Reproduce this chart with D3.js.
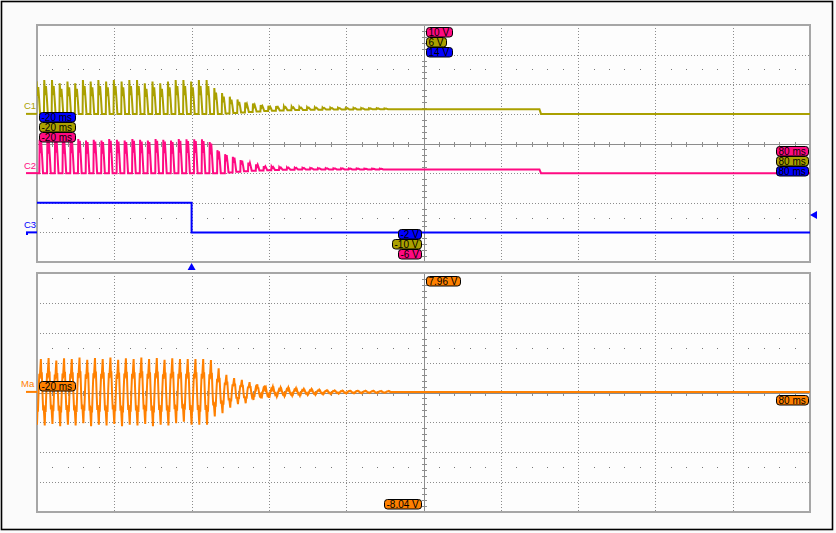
<!DOCTYPE html>
<html><head><meta charset="utf-8">
<script src="https://cdn.jsdelivr.net/npm/d3@7"></script>
<style>html,body{margin:0;padding:0;background:#fff}svg{display:block}</style>
</head><body><svg id="c" width="836" height="533"></svg>
<script>
// ---------------- data ----------------
const timeDomain = [-20, 80];           // ms, 10 ms/div
const c1Range = [-10, 6];               // V, 2 V/div
const c2Range = [-6, 10];
const c3Range = [-2, 14];
const maRange = [-8.04, 7.96];

// C1: one entry per 1 ms cycle, cycles start at -20.1 ms
const c1CycleStart = -20.1;
const c1Peak = [2.2, 2.29,2.29,2.07,2.18,2.07,2.29,2.18,2.29,2.18,2.29,2.18,2.29,2.29,2.07,2.18,2.07,2.18,2.29,2.29,2.18,2.29,2.29,
  1.75,1.41,1.16,0.97,0.77,0.70,0.60,0.55,0.52,0.50,0.48,0.46,0.45,0.44,0.43,0.42,0.41,0.40,0.40,0.39,0.38,0.38,0.37];
const c1Base = [0,0,0,0,0,0,0,0,0,0,0,0,0,0,0,0,0,0,0,0,0,0,0,0,
  0.02,0.06,0.10,0.13,0.16,0.19,0.21,0.23,0.25,0.26,0.27,0.28,0.28,0.29,0.29,0.30,0.30,0.30,0.30,0.31,0.31,0.31];
const c1TailTimes = [25.9, 45, 45.2, 80];
const c1TailVolts = [0.31, 0.31, 0, 0];

// C2
const c2CycleStart = -20.7;
const c2Peak = [2.2, 2.25,2.2,2.3,2.2,2.25,2.3,2.2,2.25,2.2,2.3,2.25,2.2,2.3,2.25,2.2,2.3,2.25,2.2,2.3,2.28,2.28,2.28,
  2.1,1.55,1.28,1.10,0.88,0.72,0.59,0.47,0.43,0.39,0.38,0.36,0.35,0.34,0.33,0.33,0.32,0.32,0.31,0.31,0.30,0.30,0.30];
const c2Base = [0,0,0,0,0,0,0,0,0,0,0,0,0,0,0,0,0,0,0,0,0,0,0,0,0,
  0.05,0.09,0.13,0.16,0.18,0.20,0.21,0.22,0.23,0.24,0.24,0.25,0.25,0.25,0.25,0.25,0.25,0.25,0.25,0.25,0.25];
const c2TailTimes = [25.3, 45, 45.2, 80];
const c2TailVolts = [0.25, 0.25, 0, 0];

// C3 step
const c3Times = [-20, 0, 0, 80];
const c3Volts = [2.0, 2.0, 0, 0];
const c3TriggerLevel = 1.18;

// Ma (math) : cycles start at -20 ms (trough), peak mid-cycle
const maCycleStart = -20;
const maTop = [2.2,2.27,2.1,2.25,2.2,2.3,2.15,2.27,2.2,2.3,2.15,2.25,2.2,2.3,2.2,2.27,2.15,2.25,2.2,2.2,2.2,2.2,
  2.14,1.58,1.14,0.92,0.80,0.65,0.51,0.42,0.35,0.29,0.29,0.25,0.20,0.19,0.15,0.11,0.10,0.09,0.08,0.08,0.07,0.07,0.06,0.06];
const maBot = [2.2,2.25,2.15,2.3,2.2,2.25,2.1,2.3,2.2,2.25,2.15,2.3,2.2,2.25,2.15,2.3,2.2,2.25,2.1,2.0,2.2,2.2,2.2,
  1.65,1.43,1.05,0.82,0.76,0.54,0.42,0.38,0.31,0.28,0.25,0.25,0.20,0.19,0.16,0.14,0.12,0.10,0.09,0.08,0.07,0.07,0.06,0];
const maTailTimes = [26, 80];
const maTailVolts = [0, 0];

// one-cycle waveform shapes: [phase, relative amplitude]
const c1Shape = [[0,0],[0.04,1],[0.14,0.55],[0.26,0.82],[0.38,0.45],[0.5,0],[1,0]];
const c2Shape = [[0,0],[0.04,1],[0.13,0.6],[0.24,0.95],[0.36,0.5],[0.48,0],[1,0]];
const maShape = [[0,-1],[0.07,-0.45],[0.12,-0.6],[0.22,0.1],[0.3,0.55],[0.36,0.4],[0.5,1],[0.57,0.45],[0.62,0.6],[0.72,-0.1],[0.8,-0.55],[0.86,-0.4],[1,-1]];

// labels
const topRefLabels = ["10 V", "6 V", "14 V"];
const bottomRefLabels = ["-2 V", "-10 V", "-6 V"];
const startLabel = "-20 ms", endLabel = "80 ms";
const maTopLabel = "7.96 V", maBottomLabel = "-8.04 V";

// ---------------- drawing ----------------
const COL = {c1:'#aaa000', c2:'#ff0a82', c3:'#0000ff', ma:'#ff8000', grid:'#8c8c8c', border:'#a6a6a6'};
const X0 = 37, X1 = 810;
const P1 = {y0:25, y1:262}, P2 = {y0:273, y1:512};
const svg = d3.select('#c');
svg.append('rect').attr('width',836).attr('height',533).attr('fill','#fbfbfb');
svg.append('rect').attr('x',1.5).attr('y',1.5).attr('width',831).attr('height',528)
  .attr('fill','none').attr('stroke','#000').attr('stroke-width',1.6);

const x = d3.scaleLinear().domain(timeDomain).range([X0, X1]);
const y1 = d3.scaleLinear().domain(c1Range).range([P1.y1, P1.y0]);
const y2 = d3.scaleLinear().domain(c2Range).range([P1.y1, P1.y0]);
const y3 = d3.scaleLinear().domain(c3Range).range([P1.y1, P1.y0]);
const ym = d3.scaleLinear().domain(maRange).range([P2.y1, P2.y0]);

function drawGrid(p, dotRows){
  const g = svg.append('g');
  const dx = (X1-X0)/10, dy = (p.y1-p.y0)/8;
  g.append('rect').attr('x',X0).attr('y',p.y0).attr('width',X1-X0).attr('height',p.y1-p.y0).attr('fill','#fdfdfd');
  for(let i=1;i<10;i++){
    const xx = Math.round(X0+i*dx)+0.5;
    g.append('line').attr('x1',xx).attr('x2',xx).attr('y1',p.y0).attr('y2',p.y1)
      .attr('stroke',COL.grid).attr('stroke-width',1).attr('stroke-dasharray', i===5?null:'1,2');
  }
  for(let j=1;j<8;j++){
    const yy = Math.round(p.y0+j*dy)+0.5;
    g.append('line').attr('x1',X0).attr('x2',X1).attr('y1',yy).attr('y2',yy)
      .attr('stroke',COL.grid).attr('stroke-width',1).attr('stroke-dasharray', j===4?null:'1,2');
  }
  const xc = Math.round(X0+5*dx)+0.5, yc = Math.round(p.y0+4*dy)+0.5;
  for(let m=1;m<50;m++){ if(m%5===0) continue;
    const xx = Math.round(X0+m*dx/5)+0.5;
    g.append('line').attr('x1',xx).attr('x2',xx).attr('y1',yc-2.5).attr('y2',yc+2.5).attr('stroke',COL.grid);
    dotRows.forEach(r=>{
      g.append('rect').attr('x',xx-0.5).attr('y',Math.round(p.y0+r*dy)).attr('width',1).attr('height',1).attr('fill','#777');
    });
  }
  for(let m=1;m<40;m++){ if(m%5===0) continue;
    const yy = Math.round(p.y0+m*dy/5)+0.5;
    g.append('line').attr('x1',xc-2.5).attr('x2',xc+2.5).attr('y1',yy).attr('y2',yy).attr('stroke',COL.grid);
  }
  g.append('rect').attr('x',X0).attr('y',p.y0).attr('width',X1-X0).attr('height',p.y1-p.y0)
    .attr('fill','none').attr('stroke',COL.border).attr('stroke-width',2);
}
drawGrid(P1,[1.5,6.5]);
drawGrid(P2,[2.5,6.5]);

const defs = svg.append('defs');
[['clipTop',P1],['clipBot',P2]].forEach(([id,p])=>{
  defs.append('clipPath').attr('id',id).append('rect').attr('x',X0).attr('y',p.y0).attr('width',X1-X0).attr('height',p.y1-p.y0);
});

function pulseTrain(start, peak, base, shape, tailT, tailV){
  const pts = [];
  peak.forEach((pk,k)=>{
    shape.forEach(([ph,rel])=>{ pts.push([start+k+ph, base[k]+(pk-base[k])*rel]); });
  });
  tailT.forEach((t,i)=>pts.push([t, tailV[i]]));
  return pts;
}
function maTrain(){
  const pts=[];
  maTop.forEach((tp,k)=>{
    maShape.forEach(([ph,rel])=>{
      const v = rel>=0 ? rel*tp : rel*(ph<0.5 ? maBot[k] : maBot[k+1]);
      pts.push([maCycleStart+k+ph, v]);
    });
  });
  maTailTimes.forEach((t,i)=>pts.push([t, maTailVolts[i]]));
  return pts;
}
function trace(pts, ys, color, clip, w){
  svg.append('path').attr('clip-path',`url(#${clip})`)
    .attr('d', d3.line().x(d=>x(d[0])).y(d=>ys(d[1]))(pts))
    .attr('fill','none').attr('stroke',color).attr('stroke-width',w||2).attr('stroke-linejoin','miter');
}
trace(pulseTrain(c1CycleStart,c1Peak,c1Base,c1Shape,c1TailTimes,c1TailVolts), y1, COL.c1, 'clipTop');
trace(pulseTrain(c2CycleStart,c2Peak,c2Base,c2Shape,c2TailTimes,c2TailVolts), y2, COL.c2, 'clipTop');
trace(c3Times.map((t,i)=>[t,c3Volts[i]]), y3, COL.c3, 'clipTop');
trace(maTrain(), ym, COL.ma, 'clipBot', 2);

// channel markers
const FONT = '"Liberation Sans", Arial, sans-serif';
function chMarker(name, yy, color, hook, tx){
  svg.append('text').attr('x',tx).attr('y',yy-4.5).text(name).attr('fill',color)
    .attr('font-family',FONT).attr('font-size',9.5);
  svg.append('line').attr('x1',26).attr('x2',37).attr('y1',yy).attr('y2',yy).attr('stroke',color).attr('stroke-width',2);
  if(hook) svg.append('line').attr('x1',27).attr('x2',27).attr('y1',yy).attr('y2',yy+2.5).attr('stroke',color).attr('stroke-width',2);
}
chMarker('C1', y1(0), COL.c1, false, 24);
chMarker('C2', y2(0), COL.c2, false, 24);
chMarker('C3', y3(0), COL.c3, true, 24);
chMarker('Ma', ym(0), COL.ma, false, 21);

// readout labels
function label(ax, top, text, fill, align){
  const g = svg.append('g');
  const t = g.append('text').text(text).attr('font-family',FONT).attr('font-size',10).attr('fill','#000');
  const w = Math.round(t.node().getComputedTextLength()+5);
  const lx = align==='right' ? ax-w : ax;
  g.insert('rect','text').attr('x',lx+0.5).attr('y',top+0.5).attr('width',w).attr('height',9.5)
    .attr('rx',3).attr('fill',fill).attr('stroke','#000').attr('stroke-width',1);
  t.attr('x',lx+2.5).attr('y',top+8.8);
}
const topCols = [COL.c2, COL.c1, COL.c3];
topRefLabels.forEach((s,i)=>label(426, 27+i*10, s, topCols[i], 'left'));
const botCols = [COL.c3, COL.c1, COL.c2];
bottomRefLabels.forEach((s,i)=>label(421, 229+i*10, s, botCols[i], 'right'));
[COL.c3, COL.c1, COL.c2].forEach((c,i)=>label(39, 112+i*10, startLabel, c, 'left'));
[COL.c2, COL.c1, COL.c3].forEach((c,i)=>label(808, 146+i*10, endLabel, c, 'right'));
label(426, 276, maTopLabel, COL.ma, 'left');
label(421, 499, maBottomLabel, COL.ma, 'right');
label(39, 381, startLabel, COL.ma, 'left');
label(808, 395, endLabel, COL.ma, 'right');

// trigger markers
const tx = x(0);
svg.append('path').attr('d',`M${tx},263 L${tx+4},270 L${tx-4},270 Z`).attr('fill',COL.c3);
const ty = y3(c3TriggerLevel);
svg.append('path').attr('d',`M${X1},${ty} L${X1+7},${ty-4} L${X1+7},${ty+4} Z`).attr('fill',COL.c3);
</script>
</body></html>
